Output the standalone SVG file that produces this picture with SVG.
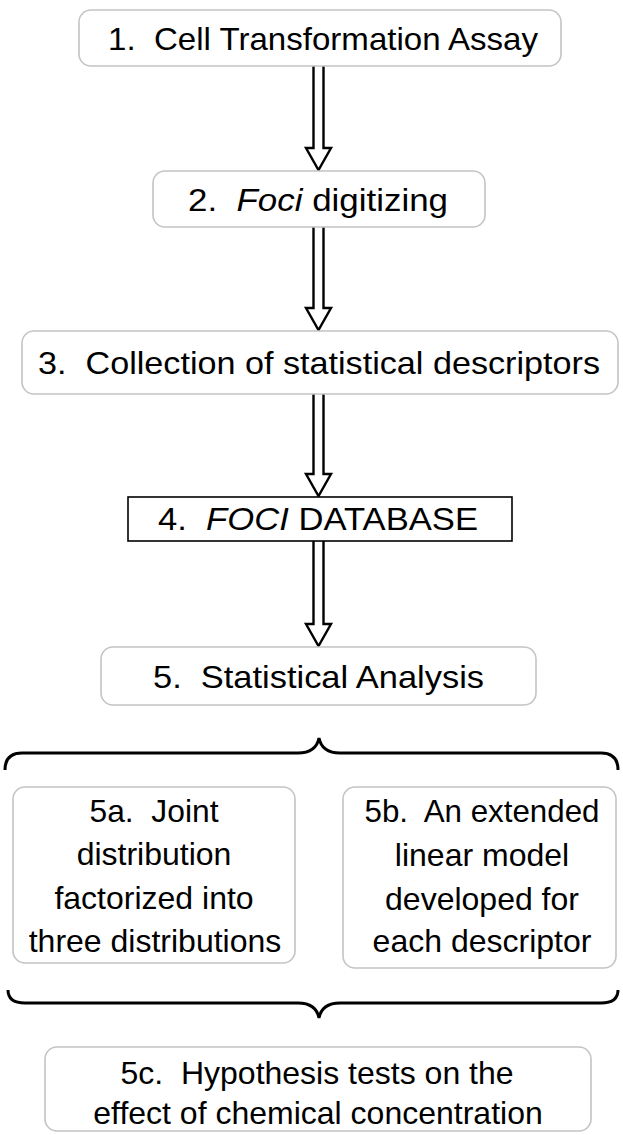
<svg xmlns="http://www.w3.org/2000/svg" width="623" height="1135" viewBox="0 0 623 1135">
<style>
.box{fill:#fff;stroke:#c4c4c4;stroke-width:1.6}
.db{fill:#fff;stroke:#000;stroke-width:1.6}
.t{font-family:"Liberation Sans",Arial,sans-serif;font-size:32px;fill:#000;text-anchor:middle}
.it{font-style:italic}
.arr{fill:#fff;stroke:#000;stroke-width:2.4;stroke-linejoin:miter}
.brace{fill:none;stroke:#000;stroke-width:3}
</style>
<rect width="623" height="1135" fill="#fff"/>
<g id="connectors">
<path class="arr" d="M313.5,66 V148 H306 L318.5,170 L331,148 H323.5 V66"/>
<path class="arr" d="M313.5,227 V308 H306 L318.5,330 L331,308 H323.5 V227"/>
<path class="arr" d="M313.5,394 V474 H306 L318.5,496 L331,474 H323.5 V394"/>
<path class="arr" d="M313.5,541 V624 H306 L318.5,646 L331,624 H323.5 V541"/>
<path class="brace" d="M5,770 Q5,753 22,753 H298 Q316,753 319,738 Q322,753 340,753 H601 Q618,753 618,770"/>
<path class="brace" d="M8,990 Q8,1003 25,1003 H298 Q316,1003 319,1018 Q322,1003 340,1003 H601 Q618,1003 618,990"/>
</g>
<g id="n1"><rect class="box" x="79" y="10" width="482" height="56" rx="12"/><text class="t" x="323" y="50" xml:space="preserve" textLength="430" lengthAdjust="spacingAndGlyphs">1.  Cell Transformation Assay</text></g>
<g id="n2"><rect class="box" x="153" y="171" width="332" height="56" rx="12"/><text class="t" x="318" y="211" xml:space="preserve" textLength="260" lengthAdjust="spacingAndGlyphs">2.  <tspan class="it">Foci</tspan> digitizing</text></g>
<g id="n3"><rect class="box" x="22" y="331" width="596" height="63" rx="12"/><text class="t" x="319" y="374" xml:space="preserve" textLength="562" lengthAdjust="spacingAndGlyphs">3.  Collection of statistical descriptors</text></g>
<g id="n4"><rect class="db" x="128" y="497" width="384" height="44"/><text class="t" x="318" y="530" xml:space="preserve" textLength="320" lengthAdjust="spacingAndGlyphs">4.  <tspan class="it">FOCI</tspan> DATABASE</text></g>
<g id="n5"><rect class="box" x="101" y="647" width="435" height="58" rx="12"/><text class="t" x="318.5" y="688" xml:space="preserve" textLength="331" lengthAdjust="spacingAndGlyphs">5.  Statistical Analysis</text></g>
<g id="n5a"><rect class="box" x="13" y="787" width="282" height="176" rx="12"/>
<text class="t" x="154" y="822" xml:space="preserve" textLength="129" lengthAdjust="spacingAndGlyphs">5a.  Joint</text>
<text class="t" x="154" y="865">distribution</text>
<text class="t" x="154" y="909">factorized into</text>
<text class="t" x="155" y="952">three distributions</text></g>
<g id="n5b"><rect class="box" x="343" y="787" width="273" height="181" rx="12"/>
<text class="t" x="482" y="822" xml:space="preserve" textLength="235" lengthAdjust="spacingAndGlyphs">5b.  An extended</text>
<text class="t" x="482" y="866">linear model</text>
<text class="t" x="482" y="910">developed for</text>
<text class="t" x="482" y="952">each descriptor</text></g>
<g id="n5c"><rect class="box" x="45" y="1047" width="546" height="84" rx="12"/>
<text class="t" x="317" y="1084" xml:space="preserve">5c.  Hypothesis tests on the</text>
<text class="t" x="318" y="1124">effect of chemical concentration</text></g>
</svg>
